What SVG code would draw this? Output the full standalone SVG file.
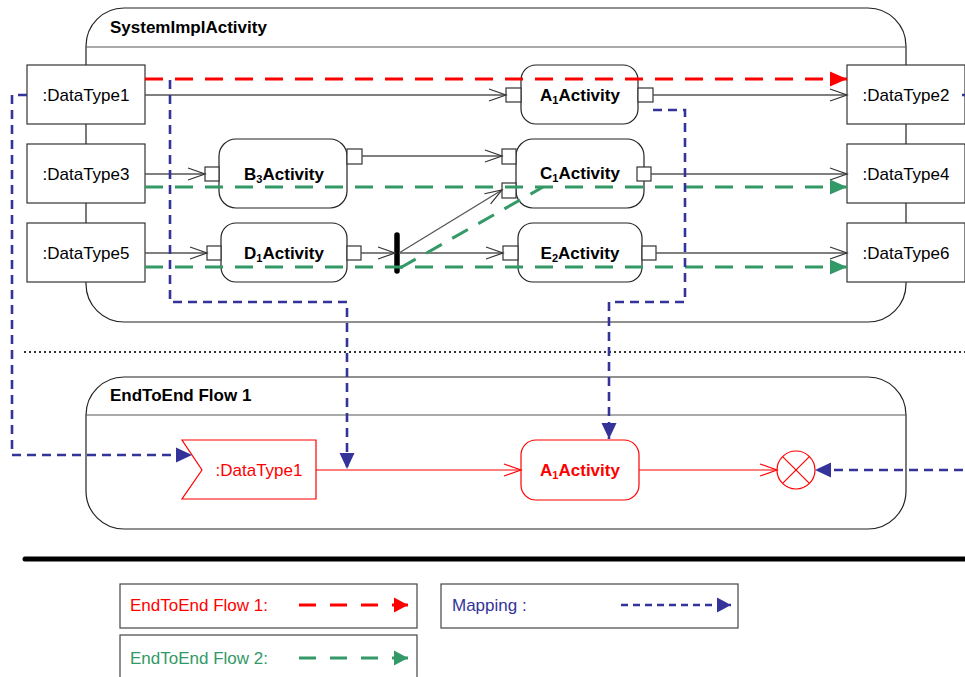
<svg xmlns="http://www.w3.org/2000/svg" width="965" height="677" viewBox="0 0 965 677">
<style>
text{font-family:"Liberation Sans",Arial,sans-serif;font-size:17px;}
.t{font-weight:bold;}
.frame{fill:none;stroke:#222;stroke-width:1.2;}
.sep{stroke:#555;stroke-width:1.2;}
.dt{fill:#fff;stroke:#333;stroke-width:1.2;}
.act{fill:#fff;stroke:#222;stroke-width:1.2;}
.port{fill:#fff;stroke:#333;stroke-width:1.2;}
.ctr{text-anchor:middle;}
.flow{fill:none;stroke:#555;stroke-width:1.3;marker-end:url(#open);}
.red{fill:none;stroke:#ff0000;stroke-width:3;stroke-dasharray:18 12;}
.grn{fill:none;stroke:#339966;stroke-width:3;stroke-dasharray:18 12;}
.blu{fill:none;stroke:#333399;stroke-width:2.6;stroke-dasharray:9 6;}
</style>
<defs>
<marker id="open" markerUnits="userSpaceOnUse" markerWidth="20" markerHeight="16" viewBox="-18 -8 20 16" refX="0" refY="0" orient="auto">
<path d="M-17,-6 L0,0 L-17,6" fill="none" stroke="#333" stroke-width="1.2"/>
</marker>
<marker id="openR" markerUnits="userSpaceOnUse" markerWidth="20" markerHeight="16" viewBox="-18 -8 20 16" refX="0" refY="0" orient="auto">
<path d="M-17,-6 L0,0 L-17,6" fill="none" stroke="#ff0000" stroke-width="1.2"/>
</marker>
<marker id="fR" markerUnits="userSpaceOnUse" markerWidth="20" markerHeight="18" viewBox="-18 -9 20 18" refX="0" refY="0" orient="auto">
<path d="M-17,-7.5 L0,0 L-17,7.5 Z" fill="#ff0000"/>
</marker>
<marker id="fG" markerUnits="userSpaceOnUse" markerWidth="20" markerHeight="18" viewBox="-18 -9 20 18" refX="0" refY="0" orient="auto">
<path d="M-17,-7.5 L0,0 L-17,7.5 Z" fill="#339966"/>
</marker>
<marker id="fB" markerUnits="userSpaceOnUse" markerWidth="20" markerHeight="18" viewBox="-18 -9 20 18" refX="0" refY="0" orient="auto">
<path d="M-16,-7.5 L0,0 L-16,7.5 Z" fill="#333399"/>
</marker>
<marker id="fRs" markerUnits="userSpaceOnUse" markerWidth="20" markerHeight="18" viewBox="-18 -9 20 18" refX="0" refY="0" orient="auto">
<path d="M-14,-7.5 L0,0 L-14,7.5 Z" fill="#ff0000"/>
</marker>
<marker id="fGs" markerUnits="userSpaceOnUse" markerWidth="20" markerHeight="18" viewBox="-18 -9 20 18" refX="0" refY="0" orient="auto">
<path d="M-14,-7.5 L0,0 L-14,7.5 Z" fill="#339966"/>
</marker>
<marker id="fBs" markerUnits="userSpaceOnUse" markerWidth="20" markerHeight="18" viewBox="-18 -9 20 18" refX="0" refY="0" orient="auto">
<path d="M-14,-7.5 L0,0 L-14,7.5 Z" fill="#333399"/>
</marker>
</defs>

<g id="SystemImplActivity">
<rect class="frame" x="86" y="8" width="820" height="314" rx="38" ry="38"/>
<line class="sep" x1="86" y1="47" x2="906" y2="47"/>
<text class="t" x="110" y="33">SystemImplActivity</text>
</g>

<g id="DataType1"><rect class="dt" x="27" y="65" width="118" height="59"/><text class="ctr" x="86" y="101">:DataType1</text></g>
<g id="DataType3"><rect class="dt" x="27" y="144" width="118" height="59"/><text class="ctr" x="86" y="180">:DataType3</text></g>
<g id="DataType5"><rect class="dt" x="27" y="223" width="118" height="59"/><text class="ctr" x="86" y="259">:DataType5</text></g>
<g id="DataType2"><rect class="dt" x="847" y="65" width="118" height="59"/><text class="ctr" x="906" y="101">:DataType2</text></g>
<g id="DataType4"><rect class="dt" x="847" y="144" width="118" height="59"/><text class="ctr" x="906" y="180">:DataType4</text></g>
<g id="DataType6"><rect class="dt" x="847" y="223" width="118" height="59"/><text class="ctr" x="906" y="259">:DataType6</text></g>

<g id="A1Activity">
<rect class="act" x="521" y="65" width="117" height="59" rx="15"/>
<rect class="port" x="506" y="88" width="15" height="14"/>
<rect class="port" x="638" y="88" width="15" height="14"/>
<text class="t ctr" x="580" y="101">A<tspan font-size="11" dy="3">1</tspan><tspan dy="-3">Activity</tspan></text>
</g>
<g id="B3Activity">
<rect class="act" x="219" y="139" width="128" height="69" rx="17"/>
<rect class="port" x="205" y="167" width="14" height="14"/>
<rect class="port" x="347" y="149" width="15" height="15"/>
<text class="t ctr" x="284" y="180">B<tspan font-size="11" dy="3">3</tspan><tspan dy="-3">Activity</tspan></text>
</g>
<g id="C1Activity">
<rect class="act" x="516" y="139" width="128" height="69" rx="17"/>
<rect class="port" x="502" y="149" width="14" height="15"/>
<rect class="port" x="502" y="183" width="14" height="15"/>
<rect class="port" x="637" y="167" width="14" height="14"/>
<text class="t ctr" x="580" y="179">C<tspan font-size="11" dy="3">1</tspan><tspan dy="-3">Activity</tspan></text>
</g>
<g id="D1Activity">
<rect class="act" x="221" y="223" width="126" height="59" rx="15"/>
<rect class="port" x="207" y="246" width="14" height="14"/>
<rect class="port" x="347" y="246" width="14" height="14"/>
<text class="t ctr" x="284" y="259">D<tspan font-size="11" dy="3">1</tspan><tspan dy="-3">Activity</tspan></text>
</g>
<g id="E2Activity">
<rect class="act" x="518" y="223" width="124" height="59" rx="15"/>
<rect class="port" x="503" y="246" width="15" height="14"/>
<rect class="port" x="642" y="246" width="14" height="14"/>
<text class="t ctr" x="580" y="259">E<tspan font-size="11" dy="3">2</tspan><tspan dy="-3">Activity</tspan></text>
</g>
<g id="Fork">
<line x1="397" y1="235" x2="397" y2="271" stroke="#000" stroke-width="5.5" stroke-linecap="round"/>
</g>

<g id="separators">
<line x1="24" y1="352" x2="965" y2="352" stroke="#333" stroke-width="2" stroke-dasharray="2 3"/>
<line x1="25" y1="559" x2="965" y2="559" stroke="#000" stroke-width="5" stroke-linecap="round"/>
</g>

<g id="EndToEndFlow1">
<rect class="frame" x="86" y="377" width="820" height="152" rx="38" ry="38"/>
<line class="sep" x1="86" y1="415" x2="906" y2="415"/>
<text class="t" x="110" y="401">EndToEnd Flow 1</text>
</g>
<g id="E2E_DataType1">
<polygon points="182,440 316,440 316,499 182,499 202,470" fill="#fff" stroke="#ff0000" stroke-width="1.2"/>
<text x="259" y="476" class="ctr" fill="#ff0000">:DataType1</text>
</g>
<g id="E2E_A1Activity">
<rect x="521" y="440" width="118" height="60" rx="15" fill="#fff" stroke="#ff0000" stroke-width="1.2"/>
<text class="t ctr" x="580" y="476" fill="#ff0000">A<tspan font-size="11" dy="3">1</tspan><tspan dy="-3">Activity</tspan></text>
</g>
<g id="E2E_FlowFinal">
<circle cx="796" cy="470" r="19" fill="#fff" stroke="#ff0000" stroke-width="1.2"/>
<path d="M782.6,456.6 L809.4,483.4 M809.4,456.6 L782.6,483.4" stroke="#ff0000" stroke-width="1.2"/>
</g>

<g id="connectors">
<path class="flow" d="M145,95 H506"/>
<path class="flow" d="M653,95 H847"/>
<path class="flow" d="M145,174 H205"/>
<path class="flow" d="M362,156 H502"/>
<path class="flow" d="M651,174 H847"/>
<path class="flow" d="M145,253 H207"/>
<path class="flow" d="M361,253 H395"/>
<path class="flow" d="M399,253 H503"/>
<path class="flow" d="M399,253 L502,190"/>
<path class="flow" d="M656,253 H847"/>
<path d="M316,470 H521" fill="none" stroke="#ff0000" stroke-width="1.2" marker-end="url(#openR)"/>
<path d="M639,470 H777" fill="none" stroke="#ff0000" stroke-width="1.2" marker-end="url(#openR)"/>

<path class="red" d="M145,79 H847" marker-end="url(#fR)"/>
<path class="grn" d="M145,187 H847" marker-end="url(#fG)"/>
<path class="grn" d="M145,267 H847" marker-end="url(#fG)"/>
<path class="grn" d="M400,268 L543,187"/>

<path class="blu" d="M27,95 H12 V455 H192" marker-end="url(#fB)"/>
<path class="blu" d="M170,80 V302 H347 V469" marker-end="url(#fB)"/>
<path class="blu" d="M653,110 H685 V302 H609 V439" marker-end="url(#fB)"/>
<path class="blu" d="M962,95 H985 V470 H815" marker-end="url(#fB)"/>
</g>

<g id="legend">
<rect x="120" y="584" width="297" height="44" fill="#fff" stroke="#444" stroke-width="1.2"/>
<text x="130" y="611" fill="#ff0000">EndToEnd Flow 1:</text>
<path d="M299,605 H408" fill="none" stroke="#ff0000" stroke-width="3" stroke-dasharray="17 14" marker-end="url(#fRs)"/>
<rect x="120" y="635" width="297" height="48" fill="#fff" stroke="#444" stroke-width="1.2"/>
<text x="130" y="664" fill="#339966">EndToEnd Flow 2:</text>
<path d="M299,658 H408" fill="none" stroke="#339966" stroke-width="3" stroke-dasharray="17 14" marker-end="url(#fGs)"/>
<rect x="441" y="584" width="297" height="44" fill="#fff" stroke="#444" stroke-width="1.2"/>
<text x="452" y="611" fill="#333399">Mapping :</text>
<path d="M621,605 H731" fill="none" stroke="#333399" stroke-width="2.6" stroke-dasharray="7 5" marker-end="url(#fBs)"/>
</g>
</svg>
